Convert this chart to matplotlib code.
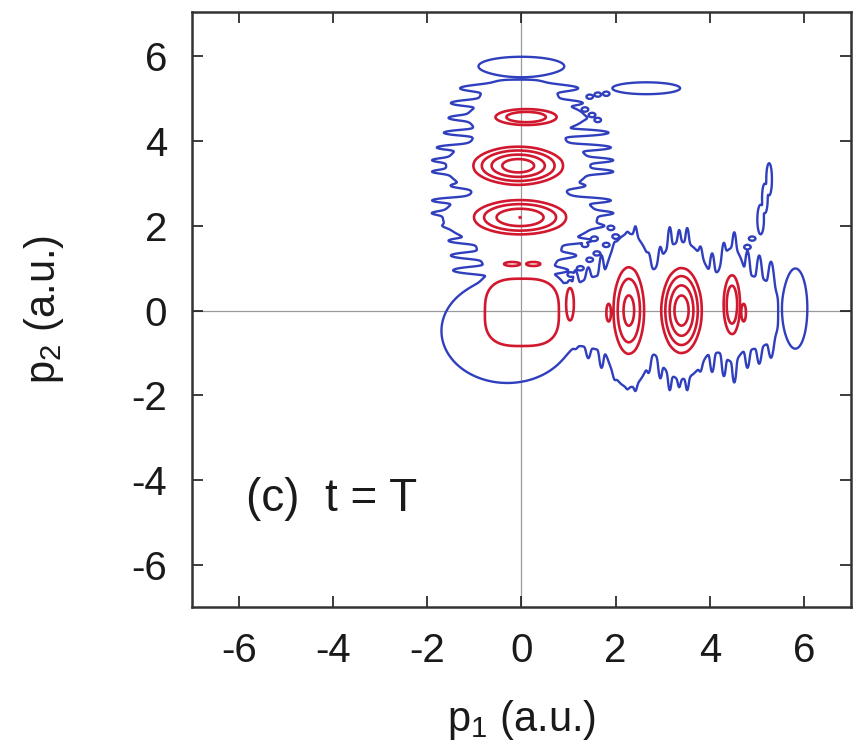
import numpy as np
import matplotlib
matplotlib.use("Agg")
import matplotlib.pyplot as plt

plt.rcParams['font.family'] = ['Liberation Sans', 'DejaVu Sans']
plt.rcParams['mathtext.fontset'] = 'custom'
plt.rcParams['mathtext.rm'] = 'Liberation Sans'
plt.rcParams['mathtext.it'] = 'Liberation Sans:italic'
plt.rcParams['axes.unicode_minus'] = False

# ---------------- data ----------------
x_ticks = [-6, -4, -2, 0, 2, 4, 6]
y_ticks = [-6, -4, -2, 0, 2, 4, 6]
x_label = r'p$_{\mathregular{1}}$ (a.u.)'
y_label = r'p$_{\mathregular{2}}$ (a.u.)'
panel_text = '(c)  t = T'

outer_level = [1.0]                  # blue contour
inner_levels = [3.0, 3.8, 4.7, 5.5]  # red contours

# upper column: fringes along p2 (centre p2, left and right end in p1)
col_fringe_p2 = [5.25, 4.90, 4.55, 4.20, 3.85, 3.55, 3.28, 2.95,
                 2.60, 2.30, 2.00, 1.65, 1.30, 0.95]
col_fringe_left = [-1.30, -1.50, -1.55, -1.65, -1.80, -1.90, -1.90, -1.50,
                   -1.90, -1.90, -1.60, -1.55, -1.50, -1.45]
col_fringe_right = [1.20, 1.30, 1.30, 1.85, 1.90, 1.95, 1.95, 1.35,
                    1.90, 1.95, 1.75, 1.50, 1.15, 0.95]

# lower row: fringes along p1 (centre p1, top and bottom end in p2)
row_fringe_p1 = [1.15, 1.42, 1.70, 1.98, 2.25, 2.42, 2.70, 2.95, 3.15, 3.35,
                 3.52, 3.80, 4.05, 4.30, 4.52, 4.80, 5.05, 5.30]
row_fringe_top = [0.90, 1.00, 1.30, 1.50, 1.70, 1.97, 1.30, 1.50, 1.97, 1.90,
                  1.95, 1.50, 1.35, 1.60, 1.85, 1.40, 1.30, 1.15]
row_fringe_bottom = [-0.75, -1.10, -1.35, -1.55, -1.70, -1.85, -1.45, -1.60, -1.88, -1.80,
                     -1.88, -1.40, -1.45, -1.55, -1.70, -1.35, -1.25, -1.10]

# other lobes: centre (p1, p2), outer half widths (w1, w2), peak relative to
# the outer level, flatness, squareness
lobe_p1 = [-0.05, 0.0, 0.10, -0.07, -0.03,
           -0.30, 0.01, 1.03, -0.20, 0.25,
           3.25, 2.28, 3.40, 4.47, 1.85, 4.72, 5.82,
           2.65, 1.45, 1.62, 1.80, 1.35, 1.50, 1.62,
           5.08, 5.17, 5.26, 4.80, 4.90,
           0.95, 1.05, 1.25, 1.45, 1.60, 1.80, 1.35, 1.55, 2.00, 1.90]
lobe_p2 = [3.15, 5.77, 4.57, 3.42, 2.20,
           -0.48, -0.04, 0.15, 1.10, 1.10,
           -0.05, 0.00, 0.00, 0.14, -0.05, -0.05, 0.05,
           5.25, 5.05, 5.10, 5.12, 4.75, 4.62, 4.50,
           2.15, 2.65, 3.10, 1.50, 1.70,
           0.60, 0.85, 1.00, 1.20, 1.35, 1.55, 1.55, 1.70, 1.75, 1.95]
lobe_w1 = [0.98, 0.90, 1.24, 1.53, 1.64,
           1.40, 0.99, 0.12, 0.25, 0.22,
           2.20, 0.57, 0.68, 0.33, 0.07, 0.07, 0.25,
           0.72, 0.07, 0.07, 0.07, 0.07, 0.07, 0.07,
           0.07, 0.06, 0.06, 0.07, 0.07,
           0.07, 0.07, 0.07, 0.07, 0.07, 0.07, 0.07, 0.07, 0.07, 0.07]
lobe_w2 = [2.30, 0.22, 0.36, 0.71, 0.67,
           1.23, 1.00, 0.56, 0.07, 0.07,
           0.95, 1.81, 1.61, 1.33, 0.30, 0.30, 0.94,
           0.14, 0.05, 0.05, 0.05, 0.05, 0.05, 0.05,
           0.35, 0.35, 0.38, 0.05, 0.05,
           0.05, 0.05, 0.05, 0.05, 0.05, 0.05, 0.05, 0.05, 0.05, 0.05]
lobe_peak = [2.0, 2.0, 4.5, 6.0, 5.5,
             2.0, 3.5, 3.4, 3.4, 3.4,
             2.0, 5.0, 6.0, 4.5, 3.4, 3.4, 2.0,
             2.0, 2.0, 2.0, 2.0, 2.0, 2.0, 2.0,
             2.0, 2.0, 2.0, 2.0, 2.0,
             2.0, 2.0, 2.0, 2.0, 2.0, 2.0, 2.0, 2.0, 2.0, 2.0]
lobe_flat = [1.0] * 6 + [4.5, 3.0, 3.0, 3.0] + [1.0] * 4 + [3.0, 3.0] + [1.0] * 23
lobe_square = [4.0] + [2.0] * 5 + [3.0] + [2.0] * 3 + [4.0] + [2.0] * 28

# ---------------- field ----------------
p1 = np.linspace(-7, 7, 1201)
p2 = np.linspace(-7, 7, 1201)
P1, P2 = np.meshgrid(p1, p2)
acc = np.zeros_like(P1)
k = 6.0


def add_lobe(cx, cy, wx, wy, A=2.0, q=1.0, m=2.0):
    global acc
    r = (np.abs((P1 - cx) / wx) ** m + np.abs((P2 - cy) / wy) ** m) ** (1.0 / m)
    f = A ** (1.0 - np.minimum(r, 6.0) ** (2 * q))
    acc += f ** k


for yc, lo, hi in zip(col_fringe_p2, col_fringe_left, col_fringe_right):
    add_lobe((lo + hi) / 2, yc, (hi - lo) / 2, 0.11)
for xc, hi, lo in zip(row_fringe_p1, row_fringe_top, row_fringe_bottom):
    add_lobe(xc, (lo + hi) / 2, 0.08, (hi - lo) / 2)
for args in zip(lobe_p1, lobe_p2, lobe_w1, lobe_w2, lobe_peak, lobe_flat, lobe_square):
    add_lobe(*args)
field = acc ** (1.0 / k)

# ---------------- figure ----------------
fig = plt.figure(figsize=(8.54, 7.56), dpi=100)
ax = fig.add_axes([0.2248, 0.1971, 0.7717, 0.7870])

ax.axhline(0, color='#9a9a9a', lw=0.9, zorder=0)
ax.axvline(0, color='#9a9a9a', lw=0.9, zorder=0)

ax.contour(P1, P2, field, levels=outer_level, colors='#2f3fbd', linewidths=1.7)
ax.contour(P1, P2, field, levels=inner_levels, colors='#d2182e', linewidths=1.9)

ax.set_xlim(-7, 7)
ax.set_ylim(-7, 7.05)
ax.set_xticks(x_ticks)
ax.set_yticks(y_ticks)
ax.set_xticklabels([str(t) for t in x_ticks])
ax.set_yticklabels([str(t) for t in y_ticks])
ax.tick_params(direction='in', length=8, width=1.2, top=True, right=True,
               labelsize=29, pad=18, colors='#1a1a1a')
for s in ax.spines.values():
    s.set_linewidth(1.8)
    s.set_color('#333333')

ax.set_xlabel(x_label, fontsize=30, color='#1a1a1a')
ax.set_ylabel(y_label, fontsize=30, color='#1a1a1a')
ax.xaxis.set_label_coords(0.5, -0.19)
ax.xaxis.label.set_va('center')
ax.yaxis.set_label_coords(-0.225, 0.5)
ax.yaxis.label.set_va('center')

ax.text(-5.85, -4.45, panel_text, fontsize=33, va='center', ha='left', color='#1a1a1a')

fig.savefig('out.png', dpi=100)
